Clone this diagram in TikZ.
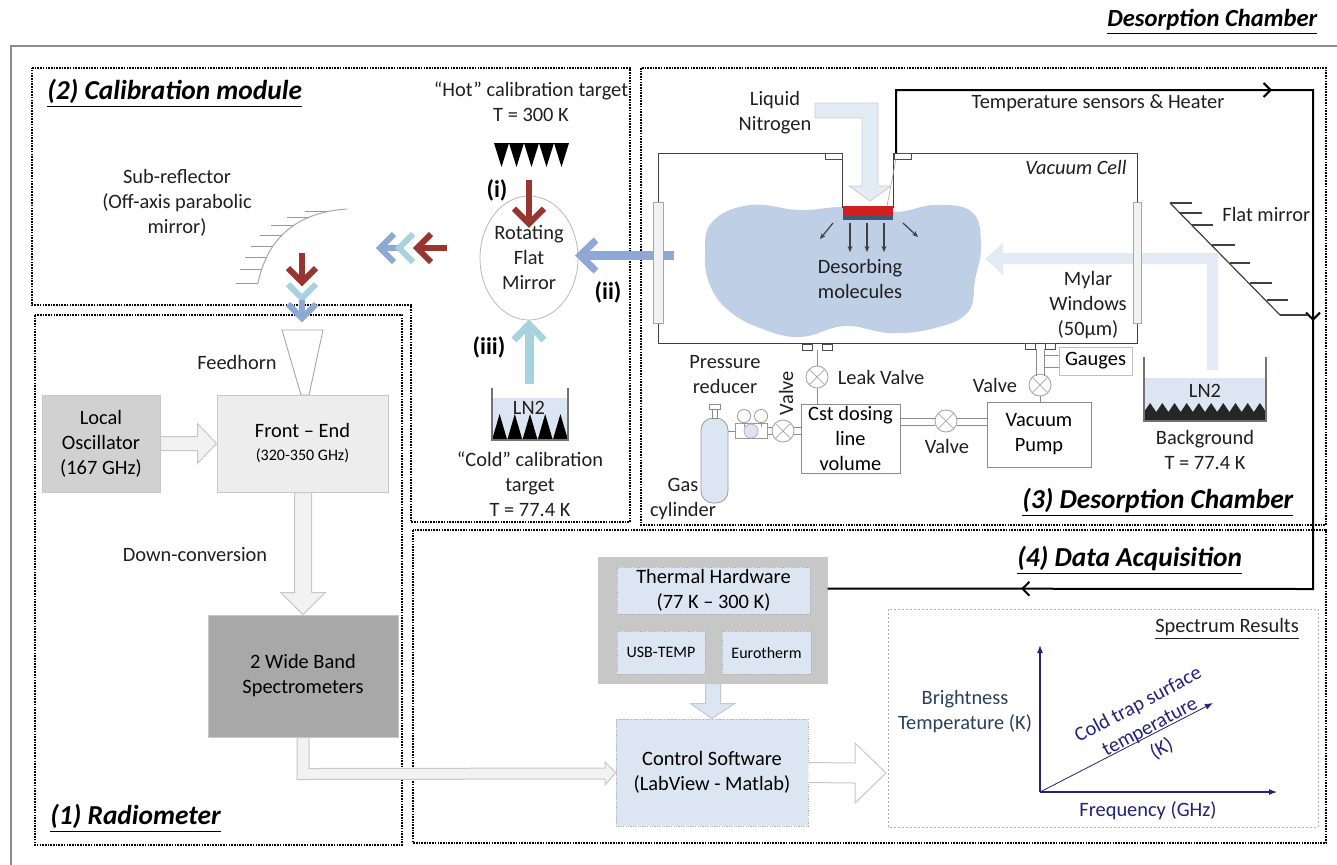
\documentclass[tikz,border=0pt]{standalone}
\usepackage{fontspec}
\setmainfont{Carlito}
\usetikzlibrary{arrows.meta,calc,shapes.geometric,decorations.markings}

\definecolor{redarr}{HTML}{983531}
\definecolor{cyanarr}{HTML}{A7D3DF}
\definecolor{bluearr}{HTML}{8DA8D4}
\definecolor{paleblue}{HTML}{DCE6F2}
\definecolor{cloudblue}{HTML}{BFD0E6}
\definecolor{bgarrow}{HTML}{E3EAF3}
\definecolor{plate}{HTML}{D11F1F}
\definecolor{platebase}{HTML}{3F5877}
\definecolor{navyink}{HTML}{22227A}
\definecolor{slateink}{HTML}{28405F}

\begin{document}
\begin{tikzpicture}[x=0.5pt,y=-0.5pt,
  txt/.style={font=\fontsize{10.2}{12.5}\selectfont, align=center, inner sep=0pt, text=black!88},
  smalltxt/.style={font=\fontsize{8}{10}\selectfont, align=center, inner sep=0pt, text=black!88},
  secthead/.style={font=\fontsize{13.7}{16}\selectfont\bfseries\itshape, anchor=west, inner sep=0pt},
  romanlbl/.style={font=\fontsize{12}{14}\selectfont\bfseries, inner sep=0pt},
  sect/.style={draw=black, line width=0.8pt, dash pattern=on 0.8pt off 0.55pt},
  cellwall/.style={draw=black!75, line width=0.5pt},
  mylar/.style={draw=black!35, fill=black!5, line width=0.4pt},
  flange/.style={draw=black!70, fill=white, line width=0.4pt},
  pipe/.style={draw=black!45, line width=0.45pt},
  valve/.style={circle, draw=black!35, fill=white, line width=0.45pt, minimum size=11pt, inner sep=0pt},
  plainbox/.style={draw=black!45, line width=0.45pt, fill=white, inner sep=0pt, align=center,
                   font=\fontsize{10.2}{12.5}\selectfont},
  graybox/.style={draw=black!22, line width=0.5pt, fill=#1, inner sep=0pt, align=center,
                  font=\fontsize{10.2}{12.5}\selectfont},
  bluebox/.style={draw=black!30, dash pattern=on 0.6pt off 0.6pt, line width=0.4pt, fill=paleblue,
                  inner sep=0pt, align=center, font=\fontsize{10.2}{12.5}\selectfont},
  blockarrow/.style={fill=#1, draw=black!22, line width=0.5pt, line join=miter},
  wire/.style={draw=black, line width=1pt},
  chev/.style={draw=#1, line width=3pt, line join=miter, line cap=butt},
  hatch/.style={draw=black!40, line width=0.4pt},
  axis/.style={draw=navyink, line width=0.6pt, -{Latex[length=4pt,width=3pt]}}
]
\useasboundingbox (0,0) rectangle (1337,864);

% ---------- title and outer frame ----------
\node[secthead, font=\fontsize{12.3}{15}\selectfont\bfseries\itshape] (title) at (1107,22) {\underline{Desorption Chamber}};
\draw[black!45, line width=1pt] (11,880) -- (11,46) -- (1350,46);

% ---------- section frames ----------
\draw[sect] (32,68) -- (630,68) -- (630,522) -- (411,522) -- (411,305) -- (32,305) -- cycle;
\draw[sect] (35,315) rectangle (402,845);
\draw[sect] (641,68) rectangle (1326,525);
\draw[sect] (413,530) rectangle (1326,843);

\node[secthead] (h2) at (47,93) {\underline{(2) Calibration module}};
\node[secthead] (h1) at (50,818) {\underline{(1) Radiometer}};
\node[secthead] (h3) at (1022,502) {\underline{(3) Desorption Chamber}};
\node[secthead] (h4) at (1017,560) {\underline{(4) Data Acquisition}};

% ---------- (2) calibration module ----------
\node[txt] (sublbl) at (177,203) {Sub-reflector\\(Off-axis parabolic\\mirror)};
\draw[black!35, line width=0.5pt] (258,283) .. controls (268,235) and (300,212) .. (347,209);
\foreach \p in {0,0.1,0.2,0.3,0.42,0.55,0.7,0.85} {
  \path (258,283) .. controls (268,235) and (300,212) .. (347,209) coordinate[pos=\p] (hh);
  \draw[hatch] (hh) -- ++(-22,0);
}

% beams reflected towards the sub-reflector
\draw[chev=bluearr] (380,248) -- (400,248);
\draw[chev=bluearr] (394,234) -- (380,248) -- (394,262);
\draw[chev=cyanarr] (413,234) -- (399,248) -- (413,262);
\draw[chev=redarr] (447,248) -- (419,248);
\draw[chev=redarr] (431,234) -- (417,248) -- (431,262);

% beams going down to the feedhorn
\draw[chev=redarr] (302,253) -- (302,280);
\draw[chev=redarr] (288,268) -- (302,282) -- (316,268);
\draw[chev=cyanarr] (288,284) -- (302,298) -- (316,284);
\draw[chev=bluearr] (302,300) -- (302,318);
\draw[chev=bluearr] (288,304) -- (302,318) -- (316,304);

% hot load
\node[txt] (hotlbl) at (531,102) {“Hot” calibration target\\T = 300 K};
\foreach \i in {0,...,4}
  \fill[black] ({494+15*\i},143) -- ({509+15*\i},143) -- ({501.5+15*\i},167) -- cycle;

% rotating mirror
\node[ellipse, draw=black!28, line width=0.4pt, minimum width=46pt, minimum height=62pt, txt] (rfm) at (529,258) {Rotating\\Flat\\Mirror};

\draw[chev=redarr] ($(rfm.north)+(0,-16)$) -- ($(rfm.north)+(0,24)$);
\draw[chev=redarr] ($(rfm.north)+(-15,13)$) -- ($(rfm.north)+(0,28)$) -- ($(rfm.north)+(15,13)$);
\node[romanlbl] (ri) at (497,190) {(i)};

\draw[bluearr, line width=4.5pt] (674,255) -- ($(rfm.east)+(6,-3)$);
\draw[chev=bluearr, line width=3.5pt] (596,240) -- (580,255.5) -- (596,271);
\node[romanlbl] (rii) at (608,292) {(ii)};

\draw[cyanarr, line width=4.5pt] (529,384) -- ($(rfm.south)+(0,8)$);
\draw[chev=cyanarr, line width=3.5pt] (514,340) -- (529,324.5) -- (544,340);
\node[romanlbl] (riii) at (489,347) {(iii)};

% cold load
\fill[paleblue] (492,398) rectangle (568,440);
\foreach \i in {0,...,4}
  \fill[black] ({492+15.2*\i},440) -- ({507.2+15.2*\i},440) -- ({499.6+15.2*\i},414) -- cycle;
\draw[black!55, line width=0.6pt] (492,388) -- (492,440) -- (568,440) -- (568,388);
\node[txt] (ln2a) at (529,408) {LN2};
\node[txt] (coldlbl) at (530,484) {“Cold” calibration\\target\\T = 77.4 K};

% ---------- (1) radiometer ----------
\draw[black!35, line width=0.45pt] (282,330) -- (323,330) -- (309,395) -- (301,395) -- cycle;
\node[txt] (fhlbl) at (237,362) {Feedhorn};

\node[graybox=black!18, minimum width=59pt, minimum height=48.5pt] (lo) at (101,443.5) {Local\\Oscillator\\(167 GHz)};
\node[graybox=black!7, minimum width=85.5pt, minimum height=48.5pt] (fe) at (302.5,443.5) {Front – End\\[-1pt]{\fontsize{8}{10}\selectfont(320-350 GHz)}};
\node[graybox=black!34, minimum width=95pt, minimum height=61pt] (spec) at (303,676) {2 Wide Band\\Spectrometers};

\filldraw[blockarrow=black!5] ($(lo.east)+(0,-7)$) -- ++(37,0) -- ++(0,-13) -- ($(fe.west)+(0,0)$)
   -- ($(lo.east)+(37,20)$) -- ++(0,-13) -- ($(lo.east)+(0,7)$) -- cycle;
\filldraw[blockarrow=black!5] ($(fe.south)+(-8,0)$) -- ++(0,100) -- ++(-14,0) -- ($(spec.north)+(0,0)$)
   -- ($(fe.south)+(23,100)$) -- ++(-14,0) -- ($(fe.south)+(9,0)$) -- cycle;
\node[txt] (dclbl) at (195,555) {Down-conversion};

% ---------- (4) data acquisition ----------
\node[graybox=black!22, minimum width=114.5pt, minimum height=63pt] (th) at (712.5,620) {};
\node[bluebox, minimum width=96.5pt, minimum height=23.5pt] (thin) at (713.5,590.5) {Thermal Hardware\\(77 K – 300 K)};
\node[bluebox, minimum width=44pt, minimum height=21.5pt, font=\fontsize{8}{10}\selectfont] (usb) at (661,652.5) {USB-TEMP};
\node[bluebox, minimum width=44.5pt, minimum height=21.5pt, font=\fontsize{8}{10}\selectfont] (euro) at (766.5,652.5) {Eurotherm};
\node[bluebox, minimum width=96pt, minimum height=53.5pt] (ctrl) at (712,772.5) {Control Software\\(LabView - Matlab)};

\filldraw[blockarrow=paleblue] ($(th.south)+(-7,0)$) -- ++(0,20) -- ++(-15,0) -- (ctrl.north)
   -- ($(th.south)+(22,20)$) -- ++(-14,0) -- ($(th.south)+(8,0)$) -- cycle;

\filldraw[blockarrow=black!5] ($(spec.south)+(-6,0)$) -- ($(spec.south)+(-6,42)$) -- (605,779) -- (605,785)
   -- (ctrl.west) -- (605,762) -- (605,768) -- ($(spec.south)+(6,31)$) -- ($(spec.south)+(6,0)$) -- cycle;

\filldraw[blockarrow=white] ($(ctrl.east)+(0,-10)$) -- (855,763) -- (855,743) -- (886,773) -- (855,803)
   -- (855,783) -- ($(ctrl.east)+(0,10)$);

% spectrum panel
\draw[black!30, line width=0.4pt, dash pattern=on 1pt off 1pt] (888,609) rectangle (1318,827);
\node[txt] (specres) at (1227,629) {\underline{Spectrum Results}};
\coordinate (orig) at (1040,792);
\draw[axis] (orig) -- (1040,645);
\draw[axis] (orig) -- (1277,792);
\draw[axis, line width=0.4pt] (orig) -- (1213,703);
\node[txt, text=slateink] (ylbl) at (965,712) {Brightness\\Temperature (K)};
\node[txt, text=navyink] (xlbl) at (1148,811) {Frequency (GHz)};
\node[txt, text=navyink, rotate=28] (zlbl) at (1150,727) {Cold trap surface\\temperature\\(K)};

% ---------- (3) desorption chamber ----------
% background radiation path from the LN2 bath
\fill[bgarrow] (1218,370) -- (1218,253) -- (1003,253) -- (1003,243) -- (985,259) -- (1003,275)
   -- (1003,264) -- (1207,264) -- (1207,370) -- cycle;

% gas cloud in the cell
\fill[cloudblue] plot[smooth cycle, tension=0.7] coordinates {
  (712,222) (750,205) (800,210) (845,207) (895,212) (935,205) (972,212) (981,245)
  (975,280) (968,312) (935,328) (890,333) (845,326) (800,337) (760,328) (728,310) (710,285) (705,255)};

% vacuum cell walls
\draw[cellwall] (842,208) -- (842,153) -- (658,153) -- (658,343) -- (1137,343) -- (1137,153) -- (893,153) -- (893,208);
\draw[mylar] (653,202) rectangle (663,323);
\draw[mylar] (1133,202) rectangle (1141,323);
\draw[flange] (825,153) rectangle (842,159);
\draw[flange] (894,153) rectangle (911,159);
\node[txt, font=\fontsize{10.2}{12.5}\selectfont\itshape] (vclbl) at (1076,167) {Vacuum Cell};

% cold finger with sample
\fill[plate] (843,206) rectangle (893,215);
\fill[platebase] (843,215) rectangle (893,220);
\draw[black!35, line width=0.3pt] (896,159) -- (887,206);

% liquid nitrogen feed
\filldraw[fill=paleblue!80!white, draw=black!20, line width=0.4pt] (815,103) -- (878,103) -- (878,186) -- (891,186)
   -- (870,201) -- (849,186) -- (862,186) -- (862,118) -- (815,118) -- cycle;
\node[txt] (lnlbl) at (775,112.5) {Liquid\\Nitrogen};

% desorbing molecules
\begin{scope}[draw=black!75, line width=0.6pt, -{Stealth[length=3pt,width=2.5pt]}]
  \draw (833,223) -- (820,239);
  \draw (850,223) -- (850,252);
  \draw (867,223) -- (867,252);
  \draw (884,223) -- (884,252);
  \draw (903,223) -- (918,237);
\end{scope}
\node[txt] (deslbl) at (860,279) {Desorbing\\molecules};

\node[txt] (mylbl) at (1088,305) {Mylar\\Windows\\(50µm)};

% temperature wire to the thermal hardware
\coordinate (tsense) at (896,153);
\draw[wire, postaction={decorate}, decoration={markings,
    mark=at position 219.5pt with {\arrow{Straight Barb[length=3.5pt,width=7pt]}},
    mark=at position 355.5pt with {\arrow{Straight Barb[length=3.5pt,width=7pt]}},
    mark=at position 635.5pt with {\arrow{Straight Barb[length=3.5pt,width=7pt]}}}]
  (tsense) -- (896,90) -- (1313,90) -- (1313,589) -- ($(th.north east)+(0,32)$);
\node[txt] (tslbl) at (1098,103) {Temperature sensors \& Heater};

% flat mirror
\draw[black!75, line width=0.6pt] (1170,203) -- (1280,315);
\foreach \yy/\xa/\xb in {203/1170/1192, 213/1180/1202, 225/1192/1213, 245/1212/1235, 263/1230/1250,
                         283/1250/1272, 300/1267/1288, 315/1280/1308}
  \draw[black!75, line width=0.6pt] (\xa,\yy) -- (\xb,\yy);
\node[txt, anchor=west] (fmlbl) at (1222,214) {Flat mirror};

% LN2 background bath
\fill[paleblue] (1144,378) rectangle (1266,420);
\fill[black!85] (1144,421) -- (1144,412) \foreach \i in {0,...,9} { -- ({1144+12.2*\i+6.1},403) -- ({1144+12.2*(\i+1)},412) } -- (1266,421) -- cycle;
\draw[black!55, line width=0.6pt] (1144,357) -- (1144,421) -- (1266,421) -- (1266,357);
\node[txt] (ln2b) at (1205,391) {LN2};
\node[txt] (bglbl) at (1205,449.5) {Background\\T = 77.4 K};

% leak valve line
\draw[flange] (802,344) rectangle (812,350);
\draw[flange] (822,344) rectangle (832,350);
\node[valve] (leak) at (817,377) {};
\draw[black!30, line width=0.4pt] (leak.north west) -- (leak.south east) (leak.north east) -- (leak.south west);
\draw[pipe] (817,350) -- (leak.north);
\node[plainbox, minimum width=49.5pt, minimum height=34.5pt] (cst) at (850.5,438.5) {Cst dosing\\line\\volume};
\draw[pipe] (leak.south) -- (leak.south |- cst.north);
\node[txt] (leaklbl) at (881,377) {Leak Valve};

% pumping line
\node[valve] (vpv) at (946,421) {};
\draw[black!30, line width=0.4pt] (vpv.north west) -- (vpv.south east) (vpv.north east) -- (vpv.south west);
\node[plainbox, minimum width=52pt, minimum height=32.5pt] (pump) at (1039,434.5) {Vacuum\\Pump};
\draw[pipe] (cst.east |- 0,418) -- (vpv.west |- 0,418) (cst.east |- 0,425) -- (vpv.west |- 0,425);
\draw[pipe] (vpv.east |- 0,418) -- (pump.west |- 0,418) (vpv.east |- 0,425) -- (pump.west |- 0,425);
\node[txt] (vpvlbl) at (947,446) {Valve};

% gauges line
\draw[flange] (1025,343) rectangle (1035,349);
\draw[flange] (1045,343) rectangle (1055,349);
\node[valve] (gv) at (1040,385) {};
\draw[black!30, line width=0.4pt] (gv.north west) -- (gv.south east) (gv.north east) -- (gv.south west);
\node[plainbox, draw=black!25, minimum width=36.5pt, minimum height=14pt] (gauge) at (1095.5,361) {Gauges};
\draw[pipe] (1036,349) -- (1036,376) (1044,349) -- (1044,376);
\draw[pipe] (1044,355) -- (gauge.west |- 0,355) (1044,367) -- (gauge.west |- 0,367);
\draw[pipe] (gv.south) -- (gv.south |- pump.north);
\node[txt] (gvlbl) at (995,385) {Valve};

% gas supply
\node[draw=black!40, fill=paleblue, rounded corners=6pt, minimum width=13.5pt, minimum height=42.5pt, inner sep=0pt] (gas) at (714.5,460.5) {};
\draw[black!45, fill=white, line width=0.4pt] (712,409) rectangle (717,418);
\draw[black!45, fill=white, line width=0.4pt] (709,404) rectangle (720,409);
\node[draw=black!40, fill=white, minimum width=16pt, minimum height=7.5pt, inner sep=0pt] (preg) at (751,431) {};
\filldraw[fill=paleblue, draw=black!30, line width=0.4pt] (preg.center) circle[radius=3.5pt];
\draw[black!40, line width=0.4pt] (744,416) circle[radius=3.3pt] (761,416) circle[radius=3.3pt];
\draw[black!40, line width=0.4pt] (744,422.6) -- (744,427) (761,422.6) -- (761,427);
\draw[pipe] (gas.east |- preg.west) -- (preg.west);
\node[valve] (gvalve) at (783,431) {};
\draw[black!30, line width=0.4pt] (gvalve.north west) -- (gvalve.south east) (gvalve.north east) -- (gvalve.south west);
\draw[pipe] (preg.east |- 0,427) -- (gvalve.west |- 0,427) (preg.east |- 0,434) -- (gvalve.west |- 0,434);
\draw[pipe] (gvalve.east |- 0,427) -- (cst.west |- 0,427) (gvalve.east |- 0,434) -- (cst.west |- 0,434);
\node[txt, rotate=90] (gvlbl2) at (786,393) {Valve};
\node[txt] (preglbl) at (725,375) {Pressure\\reducer};
\node[txt] (gaslbl) at (683,499.5) {Gas\\cylinder};

\end{tikzpicture}
\end{document}
